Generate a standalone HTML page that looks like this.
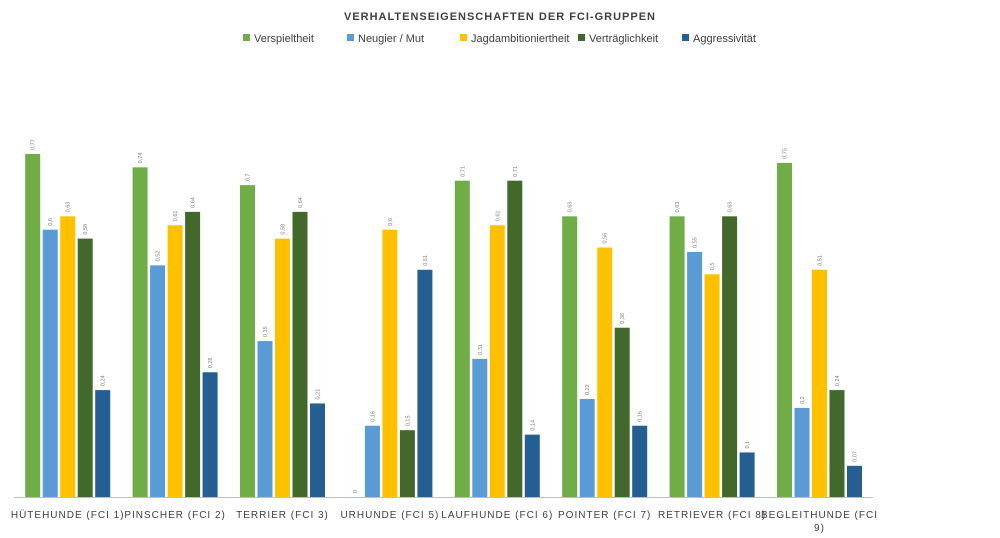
<!DOCTYPE html>
<html><head><meta charset="utf-8"><style>
body{margin:0;background:#fff;}
svg{display:block;font-family:"Liberation Sans",sans-serif;}
</style></head><body>
<svg id="chart" width="1000" height="538" viewBox="0 0 1000 538">
<text x="500" y="20" text-anchor="middle" font-size="11" font-weight="bold" letter-spacing="1" fill="#404040">VERHALTENSEIGENSCHAFTEN DER FCI-GRUPPEN</text>
<g id="legend"></g>
<line x1="14" y1="497.5" x2="873" y2="497.5" stroke="#bfbfbf" stroke-width="1"/>
<g id="bars"></g>
<g id="xlabels"></g>
</svg>
<script>
const categories=["HÜTEHUNDE (FCI 1)","PINSCHER (FCI 2)","TERRIER (FCI 3)","URHUNDE (FCI 5)","LAUFHUNDE (FCI 6)","POINTER (FCI 7)","RETRIEVER (FCI 8)","BEGLEITHUNDE (FCI 9)"];
const seriesNames=["Verspieltheit","Neugier / Mut","Jagdambitioniertheit","Verträglichkeit","Aggressivität"];
const verspieltheit=[0.77,0.74,0.7,0,0.71,0.63,0.63,0.75];
const neugier=[0.6,0.52,0.35,0.16,0.31,0.22,0.55,0.2];
const jagd=[0.63,0.61,0.58,0.6,0.61,0.56,0.5,0.51];
const vertraeglichkeit=[0.58,0.64,0.64,0.15,0.71,0.38,0.63,0.24];
const aggressivitaet=[0.24,0.28,0.21,0.51,0.14,0.16,0.1,0.07];
const series=[verspieltheit,neugier,jagd,vertraeglichkeit,aggressivitaet];
const colors=["#70ad47","#5b9bd5","#ffc000","#43682b","#255e91"];
const NS="http://www.w3.org/2000/svg";
const baseY=497, pxPerUnit=445.5, groupStart=14, groupStep=107.4, barW=15, barStep=17.5;
function yScale(v){return baseY-v*pxPerUnit;}
function xBar(ci,si){return groupStart+ci*groupStep+groupStep/2-(5*barStep-2.5)/2+si*barStep;}
const bars=document.getElementById('bars');
series.forEach((arr,si)=>{arr.forEach((v,ci)=>{
 const r=document.createElementNS(NS,'rect');
 
 
 const x=xBar(ci,si),y=yScale(v);
 r.setAttribute('x',x);r.setAttribute('y',y);r.setAttribute('width',barW);r.setAttribute('height',baseY-y);r.setAttribute('fill',colors[si]);
 bars.appendChild(r);
 const t=document.createElementNS(NS,'text');
 
 
 const tx=x+barW/2+2,ty=y-4;
 t.setAttribute('transform','translate('+tx+','+ty+') rotate(-90)');
 t.setAttribute('font-size','5.5');t.setAttribute('fill','#7f7f7f');
 t.textContent=String(v).replace('.',',');
 bars.appendChild(t);
});});
const xl=document.getElementById('xlabels');
categories.forEach((c,ci)=>{
 const cx=groupStart+ci*groupStep+groupStep/2;
 const t=document.createElementNS(NS,'text');
 
 
 t.setAttribute('x',cx);t.setAttribute('y',518);t.setAttribute('text-anchor','middle');
 t.setAttribute('font-size','10');t.setAttribute('letter-spacing','1');t.setAttribute('fill','#404040');
 if(c.length>18){t.textContent='BEGLEITHUNDE (FCI';const t2=t.cloneNode();t2.setAttribute('y',531);t2.textContent='9)';xl.appendChild(t2);}
 else t.textContent=c;
 xl.appendChild(t);
});
const lg=document.getElementById('legend');
const lx=[243,347,460,578,682];
seriesNames.forEach((n,i)=>{
 const r=document.createElementNS(NS,'rect');
 
 
 r.setAttribute('x',lx[i]);r.setAttribute('y',34);r.setAttribute('width',7);r.setAttribute('height',7);r.setAttribute('fill',colors[i]);
 lg.appendChild(r);
 const t=document.createElementNS(NS,'text');
 
 
 t.setAttribute('x',lx[i]+11);t.setAttribute('y',42);t.setAttribute('font-size','11');t.setAttribute('fill','#404040');
 t.textContent=n;lg.appendChild(t);
});
</script>
</body></html>
